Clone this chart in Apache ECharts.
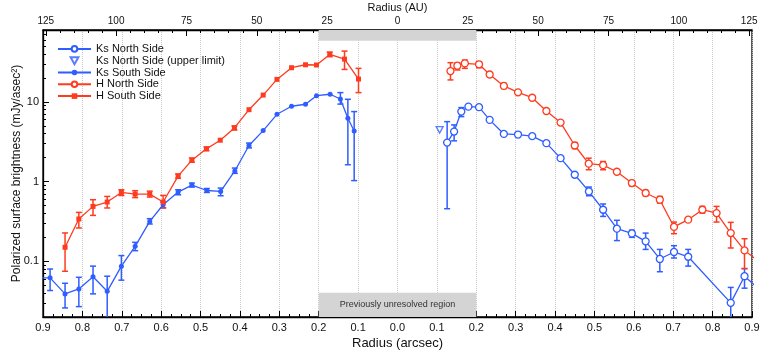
<!DOCTYPE html>
<html>
<head>
<meta charset="utf-8">
<title>Polarized surface brightness</title>
<script src="https://cdn.jsdelivr.net/npm/echarts@6/dist/echarts.min.js"></script>
<style>
  html, body { margin: 0; padding: 0; background: #fff; }
  #chart { width: 763px; height: 361px; }
</style>
</head>
<body>
<div id="chart"></div>
<script>
// radius in arcsec; south side is drawn to the left (negative x)
const ksNorthR  = [0.126, 0.1437, 0.162, 0.180, 0.207, 0.234, 0.270, 0.306, 0.342, 0.378, 0.414, 0.450, 0.486, 0.522, 0.557, 0.595, 0.630, 0.666, 0.702, 0.738, 0.846, 0.881, 0.917];
const ksNorthV  = [3.09, 4.25, 7.57, 8.74, 8.6, 5.96, 3.97, 3.9, 3.72, 3.04, 1.97, 1.22, 0.753, 0.444, 0.257, 0.224, 0.178, 0.107, 0.131, 0.114, 0.0301, 0.065, 0.045];
const ksNorthLo = [0.457, 3.25, 6.55, 8.4, null, null, null, null, null, null, null, null, 0.665, 0.366, 0.182, 0.2, 0.141, 0.074, 0.11, 0.087, 0.015, 0.046, null];
const ksNorthHi = [5.66, 5.15, 8.5, 9.1, null, null, null, null, null, null, null, null, 0.855, 0.524, 0.327, 0.246, 0.226, 0.141, 0.157, 0.141, 0.047, 0.081, null];

const ksLimitR = [0.107];
const ksLimitV = [4.46];

const ksSouthR  = [0.110, 0.126, 0.145, 0.171, 0.2056, 0.2335, 0.269, 0.306, 0.341, 0.377, 0.413, 0.449, 0.484, 0.522, 0.557, 0.595, 0.629, 0.666, 0.701, 0.737, 0.773, 0.809, 0.844, 0.882, 0.918];
const ksSouthV  = [4.33, 6.25, 10.9, 12.5, 12.0, 9.36, 8.83, 7.0, 4.37, 2.84, 1.36, 0.753, 0.774, 0.905, 0.74, 0.513, 0.317, 0.154, 0.087, 0.042, 0.064, 0.045, 0.039, 0.062, 0.062];
const ksSouthLo = [1.03, 1.63, 9.4, null, null, null, null, null, null, 2.65, 1.27, 0.665, 0.731, 0.855, 0.684, 0.47, 0.294, 0.136, 0.058, 0.015, 0.039, 0.027, 0.026, 0.043, null];
const ksSouthHi = [7.57, 10.8, 13.1, null, null, null, null, null, null, 3.05, 1.48, 0.83, 0.82, 0.96, 0.791, 0.555, 0.343, 0.173, 0.118, 0.065, 0.087, 0.063, 0.053, 0.080, null];

const hNorthR  = [0.1345, 0.152, 0.171, 0.207, 0.234, 0.270, 0.306, 0.342, 0.378, 0.414, 0.450, 0.4855, 0.522, 0.557, 0.595, 0.630, 0.666, 0.702, 0.738, 0.774, 0.810, 0.846, 0.881, 0.917];
const hNorthV  = [24.4, 28.5, 30.5, 29.7, 22.1, 15.9, 13.2, 11.3, 7.7, 5.51, 2.84, 1.68, 1.61, 1.33, 0.96, 0.72, 0.593, 0.27, 0.333, 0.444, 0.403, 0.226, 0.137, 0.10];
const hNorthLo = [18.9, 25.2, 26.4, 26.9, null, 14.7, null, null, null, null, 2.6, 1.41, 1.41, null, 0.887, 0.665, 0.538, 0.222, null, 0.403, 0.311, 0.147, 0.081, null];
const hNorthHi = [31.1, 31.0, 33.6, 32.0, null, 17.1, null, null, null, null, 3.09, 1.97, 1.79, null, 1.03, 0.775, 0.652, 0.311, null, 0.489, 0.489, 0.308, 0.192, null];

const hSouthR  = [0.099, 0.1345, 0.172, 0.2056, 0.2335, 0.269, 0.306, 0.341, 0.377, 0.414, 0.450, 0.485, 0.522, 0.557, 0.595, 0.629, 0.666, 0.701, 0.737, 0.773, 0.809, 0.844];
const hSouthV  = [19.4, 34.5, 39.5, 29.1, 29.3, 26.9, 19.2, 12.2, 8.0, 4.72, 3.31, 2.58, 1.86, 1.17, 0.555, 0.698, 0.698, 0.731, 0.555, 0.489, 0.34, 0.150];
const hSouthLo = [13.1, 25.6, 37.0, null, null, null, null, null, null, 4.45, null, 2.45, 1.75, 1.1, 0.467, 0.64, 0.63, 0.67, 0.467, 0.377, 0.262, 0.075];
const hSouthHi = [26.4, 43.5, 42.3, null, null, null, null, null, null, 5.0, null, 2.72, 1.98, 1.25, 0.671, 0.76, 0.77, 0.79, 0.652, 0.593, 0.411, 0.227];

// axes
const AU_PER_ARCSEC = 140;
const auMajor = [-125, -100, -75, -50, -25, 0, 25, 50, 75, 100, 125];
const auMinor = [];
for (let a = -125; a <= 125; a += 5) auMinor.push(a);
const yMajor = [0.1, 1, 10];
const yMinor = [];
[0.01, 0.1, 1, 10].forEach(d => { for (let k = 2; k <= 9; k++) yMinor.push(+(d * k).toPrecision(3)); });
const gapBand = [-0.2, 0.2];

const BLUE = '#2f5dff';
const RED = '#ff3b1f';
const FONT = "'Liberation Sans', Arial, sans-serif";

function pts(rs, vs, sign) { return rs.map((r, i) => [sign * r, vs[i]]); }

function errData(rs, lo, hi, sign) {
  const out = [];
  rs.forEach((r, i) => { if (lo[i] != null) out.push([sign * r, lo[i], hi[i]]); });
  return out;
}

function errSeries(name, data, color) {
  return {
    type: 'custom', name: name, data: data, z: 1, clip: true,
    encode: { x: 0, y: [1, 2] },
    renderItem: function (params, api) {
      const x = api.value(0);
      const a = api.coord([x, api.value(1)]);
      const b = api.coord([x, api.value(2)]);
      const w = 3;
      const st = { stroke: color, lineWidth: 1.5 };
      return {
        type: 'group', children: [
          { type: 'line', shape: { x1: a[0], y1: a[1], x2: b[0], y2: b[1] }, style: st },
          { type: 'line', shape: { x1: a[0] - w, y1: a[1], x2: a[0] + w, y2: a[1] }, style: st },
          { type: 'line', shape: { x1: b[0] - w, y1: b[1], x2: b[0] + w, y2: b[1] }, style: st }
        ]
      };
    }
  };
}

const chart = echarts.init(document.getElementById('chart'));
chart.setOption({
  animation: false,
  textStyle: { fontFamily: FONT },
  grid: { left: 43, right: 11, top: 30, bottom: 44, show: true, borderColor: '#000', borderWidth: 1.3, outerBoundsMode: 'none' },
  legend: {
    orient: 'vertical', left: 52, top: 38, itemWidth: 33, itemHeight: 7, itemGap: 0,
    textStyle: { fontSize: 11, color: '#111', lineHeight: 11.8, fontFamily: FONT },
    data: ['Ks North Side', 'Ks North Side (upper limit)', 'Ks South Side', 'H North Side', 'H South Side']
  },
  xAxis: [
    {
      type: 'value', position: 'bottom', min: -0.9, max: 0.9, interval: 0.1,
      name: 'Radius (arcsec)', nameLocation: 'middle', nameGap: 20, nameMoveOverlap: false,
      nameTextStyle: { fontSize: 13, color: '#111' },
      axisLine: { onZero: false, lineStyle: { color: '#000', width: 1.3 } },
      axisTick: { inside: true, length: 6, lineStyle: { color: '#000' } },
      minorTick: { show: true, splitNumber: 4, length: 3, lineStyle: { color: '#000' } },
      axisLabel: { fontSize: 11, color: '#111', margin: 5, formatter: v => Math.abs(v).toFixed(1) },
      splitLine: { show: true, lineStyle: { color: '#c8c8c8', type: 'dotted', width: 1 } }
    },
    {
      type: 'value', position: 'top', min: -0.9, max: 0.9,
      name: 'Radius (AU)', nameLocation: 'middle', nameGap: 17, nameMoveOverlap: false,
      nameTextStyle: { fontSize: 11, color: '#111' },
      axisLine: { onZero: false, lineStyle: { color: '#000', width: 1.3 } },
      axisTick: { inside: true, length: 6, lineStyle: { color: '#000' }, customValues: auMajor.map(a => a / AU_PER_ARCSEC) },
      axisLabel: { fontSize: 10, color: '#111', margin: 4, customValues: auMajor.map(a => a / AU_PER_ARCSEC),
        formatter: v => String(Math.round(Math.abs(v * AU_PER_ARCSEC))) },
      splitLine: { show: false }
    },
    {
      type: 'value', position: 'top', min: -0.9, max: 0.9,
      axisLine: { show: false, onZero: false },
      axisTick: { inside: true, length: 3, lineStyle: { color: '#000' }, customValues: auMinor.map(a => a / AU_PER_ARCSEC) },
      axisLabel: { show: false },
      splitLine: { show: false }
    }
  ],
  yAxis: [
    {
      type: 'log', logBase: 10, min: 0.02, max: 80, position: 'left',
      name: 'Polarized surface brightness (mJy/asec\u00b2)', nameLocation: 'middle', nameGap: 20, nameMoveOverlap: false,
      nameTextStyle: { fontSize: 12, color: '#111' },
      axisLine: { show: true, onZero: false, lineStyle: { color: '#000', width: 1.3 } },
      axisTick: { show: true, inside: true, length: 6, lineStyle: { color: '#000' }, customValues: yMajor },
      axisLabel: { fontSize: 11, color: '#111', margin: 4, customValues: yMajor, formatter: v => String(v) },
      splitLine: { show: false }
    },
    {
      type: 'log', logBase: 10, min: 0.02, max: 80, position: 'left',
      axisLine: { show: false, onZero: false },
      axisTick: { show: true, inside: true, length: 3, lineStyle: { color: '#000' }, customValues: yMinor },
      axisLabel: { show: false },
      splitLine: { show: false }
    }
  ],
  series: [
    errSeries('err-ksn', errData(ksNorthR, ksNorthLo, ksNorthHi, 1), BLUE),
    errSeries('err-kss', errData(ksSouthR, ksSouthLo, ksSouthHi, -1), BLUE),
    errSeries('err-hn', errData(hNorthR, hNorthLo, hNorthHi, 1), RED),
    errSeries('err-hs', errData(hSouthR, hSouthLo, hSouthHi, -1), RED),
    {
      name: 'Ks North Side', type: 'line', z: 3, clip: true,
      data: pts(ksNorthR, ksNorthV, 1),
      symbol: 'circle', symbolSize: 7, showAllSymbol: true,
      lineStyle: { color: BLUE, width: 1.3 },
      itemStyle: { color: '#fff', borderColor: BLUE, borderWidth: 1.3 },
      markArea: {
        silent: true,
        itemStyle: { color: '#d4d4d4' },
        label: { show: false },
        data: [
          [{ xAxis: gapBand[0], yAxis: 58.6 }, { xAxis: gapBand[1], yAxis: 80 }],
          [{ xAxis: gapBand[0], yAxis: 0.02, name: 'Previously unresolved region',
             label: { show: true, position: 'inside', fontSize: 9, color: '#333', fontFamily: FONT } },
           { xAxis: gapBand[1], yAxis: 0.0402 }]
        ]
      }
    },
    {
      name: 'Ks North Side (upper limit)', type: 'scatter', z: 3,
      data: pts(ksLimitR, ksLimitV, 1),
      symbol: 'path://M0,0L10,0L5,9Z', symbolSize: [7, 6.5],
      itemStyle: { color: '#fff', borderColor: BLUE, borderWidth: 1.3 }
    },
    {
      name: 'Ks South Side', type: 'line', z: 3, clip: true,
      data: pts(ksSouthR, ksSouthV, -1),
      symbol: 'circle', symbolSize: 5, showAllSymbol: true,
      lineStyle: { color: BLUE, width: 1.3 },
      itemStyle: { color: BLUE }
    },
    {
      name: 'H North Side', type: 'line', z: 3, clip: true,
      data: pts(hNorthR, hNorthV, 1),
      symbol: 'circle', symbolSize: 7, showAllSymbol: true,
      lineStyle: { color: RED, width: 1.3 },
      itemStyle: { color: '#fff', borderColor: RED, borderWidth: 1.3 }
    },
    {
      name: 'H South Side', type: 'line', z: 3, clip: true,
      data: pts(hSouthR, hSouthV, -1),
      symbol: 'rect', symbolSize: 5, showAllSymbol: true,
      lineStyle: { color: RED, width: 1.3 },
      itemStyle: { color: RED }
    }
  ]
});
</script>
</body>
</html>
